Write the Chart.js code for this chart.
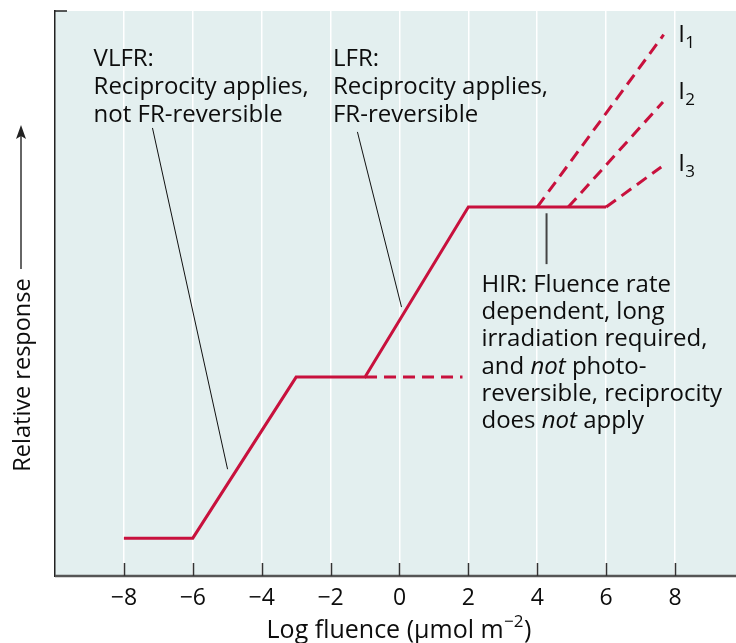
<!DOCTYPE html>
<html><head><meta charset="utf-8">
<script src="https://cdn.jsdelivr.net/npm/chart.js@4.4.1/dist/chart.umd.min.js"></script>
<style>html,body{margin:0;padding:0;background:#fff;}#wrap{width:736px;height:643px;}</style>
</head><body><div id="wrap"><canvas id="c" width="736" height="643"></canvas></div>
<script>
// ---- data ----
const xTicks = [-8, -6, -4, -2, 0, 2, 4, 6, 8];
const mainX = [-8, -6, -3, -1, 2, 6];
const mainY = [0.67, 0.67, 3.52, 3.52, 6.53, 6.53];
const lfrDashX = [-1, 1.83];
const lfrDashY = [3.52, 3.52];
const i1X = [4, 7.67], i1Y = [6.53, 9.58];
const i2X = [4.9, 7.65], i2Y = [6.53, 8.39];
const i3X = [6, 7.6], i3Y = [6.53, 7.24];
const iLabels = ['I', 'I', 'I'];
const iSubs = ['1', '2', '3'];
const vlfrText = [[['VLFR:']], [['Reciprocity applies,']], [['not FR-reversible']]];
const lfrText = [[['LFR:']], [['Reciprocity applies,']], [['FR-reversible']]];
const hirText = [
  [['HIR: Fluence rate']],
  [['dependent, long']],
  [['irradiation required,']],
  [['and '], ['not', true], [' photo-']],
  [['reversible, reciprocity']],
  [['does '], ['not', true], [' apply']]
];
const xTitle = 'Log fluence (\u03BCmol m';
const xTitleSup = '\u22122';
const yTitle = 'Relative response';

const RED = '#c8113d';
const FONT = '"Open Sans", sans-serif';
const FS = 24;

function pts(xs, ys) { return xs.map((x, i) => ({x: x, y: ys[i]})); }
function ds(xs, ys, dashed) {
  return {data: pts(xs, ys), borderColor: RED, borderWidth: 3, pointRadius: 0, tension: 0,
    borderDash: dashed ? [12, 7] : [], borderCapStyle: 'butt', borderJoinStyle: 'miter', fill: false};
}

function drawSegs(ctx, x, y, segs, size) {
  let cx = x;
  segs.forEach(s => {
    ctx.font = (s[1] ? 'italic ' : '') + size + 'px ' + FONT;
    ctx.fillText(s[0], cx, y);
    cx += ctx.measureText(s[0]).width;
  });
}
function drawBlock(ctx, x, y, lines, lh) {
  lines.forEach((l, i) => drawSegs(ctx, x, y + i * lh, l, FS));
}

const annot = {
  id: 'annot',
  beforeDraw(chart) {
    const {ctx, chartArea: a} = chart;
    ctx.save();
    ctx.fillStyle = '#e3efef';
    ctx.fillRect(a.left, a.top, a.right - a.left, a.bottom - a.top);
    ctx.restore();
  },
  afterDraw(chart) {
    const {ctx, chartArea: a} = chart;
    const xs = chart.scales.x, ys = chart.scales.y;
    const px = v => xs.getPixelForValue(v), py = v => ys.getPixelForValue(v);
    ctx.save();
    // bottom axis line
    ctx.strokeStyle = '#555';
    ctx.lineWidth = 2.5;
    ctx.beginPath(); ctx.moveTo(a.left, a.bottom); ctx.lineTo(a.right, a.bottom); ctx.stroke();
    // inward tick marks
    ctx.strokeStyle = '#333'; ctx.lineWidth = 1.5;
    xTicks.forEach(t => {
      const x = Math.round(px(t)) + 0.5;
      ctx.beginPath(); ctx.moveTo(x, a.bottom - 13); ctx.lineTo(x, a.bottom); ctx.stroke();
    });
    // top-left corner stub
    ctx.strokeStyle = '#222'; ctx.lineWidth = 1.5;
    ctx.beginPath(); ctx.moveTo(a.left, a.top); ctx.lineTo(a.left + 12, a.top); ctx.stroke();
    // leader lines
    ctx.strokeStyle = '#111'; ctx.lineWidth = 1;
    [[-7.17, 7.93, -4.99, 1.89], [-1.22, 7.86, 0.06, 4.76]].forEach(l => {
      ctx.beginPath(); ctx.moveTo(px(l[0]), py(l[1])); ctx.lineTo(px(l[2]), py(l[3])); ctx.stroke();
    });
    ctx.strokeStyle = '#444'; ctx.lineWidth = 2;
    ctx.beginPath(); ctx.moveTo(px(4.27), py(6.42)); ctx.lineTo(px(4.27), py(5.52)); ctx.stroke();
    // texts
    ctx.fillStyle = '#0d0d0d';
    ctx.textBaseline = 'alphabetic';
    ctx.textAlign = 'left';
    drawBlock(ctx, px(-8.88), py(9.02), vlfrText, 28);
    drawBlock(ctx, px(-1.93), py(9.02), lfrText, 28);
    drawBlock(ctx, px(2.38), py(5.03), hirText, 27.3);
    const iY = [9.45, 8.45, 7.16];
    iLabels.forEach((t, i) => {
      const x = px(8.09), y = py(iY[i]);
      ctx.font = FS + 'px ' + FONT;
      ctx.fillText(t, x, y);
      const w = ctx.measureText(t).width;
      ctx.font = '17px ' + FONT;
      ctx.fillText(iSubs[i], x + w + 0.5, y + 6);
    });
    // x title
    ctx.font = '25px ' + FONT;
    const w1 = ctx.measureText(xTitle).width;
    ctx.font = '17px ' + FONT;
    const w2 = ctx.measureText(xTitleSup).width;
    ctx.font = '25px ' + FONT;
    const w3 = ctx.measureText(')').width;
    const total = w1 + w2 + w3 + 1;
    let tx = 399 - total / 2;
    const ty = 638;
    ctx.fillText(xTitle, tx, ty);
    ctx.font = '17px ' + FONT;
    ctx.fillText(xTitleSup, tx + w1 + 0.5, ty - 11);
    ctx.font = '25px ' + FONT;
    ctx.fillText(')', tx + w1 + w2 + 1, ty);
    // y title with arrow
    ctx.save();
    ctx.translate(30, 375);
    ctx.rotate(-Math.PI / 2);
    ctx.textAlign = 'center';
    ctx.font = '23.5px ' + FONT;
    ctx.fillText(yTitle, 0, 0);
    ctx.restore();
    ctx.strokeStyle = '#666'; ctx.lineWidth = 2;
    ctx.beginPath(); ctx.moveTo(21, 269); ctx.lineTo(21, 136); ctx.stroke();
    ctx.fillStyle = '#222';
    ctx.beginPath(); ctx.moveTo(21, 125); ctx.lineTo(16, 139); ctx.lineTo(21, 136); ctx.lineTo(26, 139); ctx.closePath(); ctx.fill();
    ctx.restore();
  }
};

new Chart(document.getElementById('c'), {
  type: 'line',
  data: {datasets: [
    ds(mainX, mainY, false),
    ds(lfrDashX, lfrDashY, true),
    ds(i1X, i1Y, true),
    ds(i2X, i2Y, true),
    ds(i3X, i3Y, true)
  ]},
  options: {
    responsive: false, animation: false, devicePixelRatio: 1,
    layout: {padding: {left: 0, right: 0, top: 11, bottom: 0}},
    plugins: {legend: {display: false}, tooltip: {enabled: false}},
    scales: {
      x: {
        type: 'linear', min: -10, max: 9.77,
        afterBuildTicks: s => { s.ticks = xTicks.map(v => ({value: v})); },
        afterFit: s => { s.height = 67; },
        grid: {color: '#ffffff', lineWidth: 1.5, drawTicks: false},
        border: {display: false},
        ticks: {font: {family: FONT, size: 23}, color: '#0d0d0d', padding: 9, maxRotation: 0, autoSkip: false,
          callback: v => v < 0 ? '\u2212' + Math.abs(v) : String(v)}
      },
      y: {
        min: 0, max: 10,
        afterFit: s => { s.width = 55; },
        grid: {display: false, drawTicks: false},
        ticks: {display: false},
        border: {display: true, color: '#222', width: 1.5}
      }
    }
  },
  plugins: [annot]
});
</script></body></html>
